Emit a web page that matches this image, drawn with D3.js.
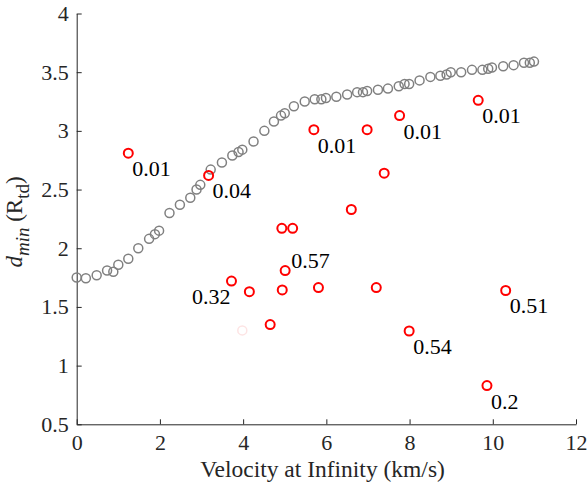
<!DOCTYPE html>
<html>
<head>
<meta charset="utf-8">
<title>dmin vs velocity at infinity</title>
<style>
	body { margin: 0; background: #fff; }
	svg { display: block; }
	.axis text { font-family: 'Liberation Serif', serif; font-size: 22px; fill: #262626; }
	.axis path, .axis line { stroke: #262626; stroke-width: 1; }
</style>
</head>
<body>
<svg width="588" height="487"></svg>
<script src="https://cdn.jsdelivr.net/npm/d3@7"></script>
<script>
	// gray curve: velocity (km/s) and d_min (R_td)
	let curveV = [0, 0.22, 0.48, 0.73, 0.88, 1.0, 1.24, 1.48, 1.74, 1.88, 1.98, 2.23, 2.48, 2.73, 2.88, 2.97,
		3.22, 3.49, 3.74, 3.89, 3.98, 4.25, 4.51, 4.74, 4.91, 5.0, 5.22, 5.48, 5.72, 5.88, 5.99, 6.24, 6.5,
		6.74, 6.88, 6.98, 7.24, 7.48, 7.74, 7.88, 7.99, 8.24, 8.5, 8.74, 8.89, 8.99, 9.24, 9.5, 9.75, 9.89,
		9.98, 10.25, 10.5, 10.75, 10.89, 10.99]
	let curveD = [1.75, 1.745, 1.77, 1.81, 1.80, 1.86, 1.91, 2.0, 2.08, 2.12, 2.15, 2.30, 2.37, 2.43, 2.50, 2.54,
		2.67, 2.73, 2.79, 2.82, 2.84, 2.91, 3.0, 3.08, 3.13, 3.15, 3.21, 3.25, 3.27, 3.27, 3.28, 3.29, 3.31,
		3.33, 3.33, 3.34, 3.35, 3.36, 3.38, 3.40, 3.40, 3.43, 3.46, 3.47, 3.48, 3.50, 3.50, 3.52, 3.52, 3.53,
		3.54, 3.55, 3.56, 3.58, 3.58, 3.59]

	// red points, with label text ('' = no label) and where the label sits
	let redV = [1.24, 3.17, 4.93, 5.19, 5.70, 6.98, 7.76, 9.65, 7.39, 6.60, 3.72, 4.15, 5.01, 4.94, 5.81, 7.20, 4.65, 10.31, 7.99, 9.86]
	let redD = [2.81, 2.62, 2.17, 2.17, 3.01, 3.01, 3.13, 3.26, 2.64, 2.33, 1.72, 1.63, 1.81, 1.645, 1.665, 1.665, 1.35, 1.64, 1.295, 0.83]
	let redLabel = ['0.01', '0.04', '', '', '0.01', '', '0.01', '0.01', '', '', '0.32', '', '0.57', '', '', '', '', '0.51', '0.54', '0.2']
	let labelSide = ['se', 'se', '', '', 'se', '', 'se', 'se', '', '', 'sw', '', 'ne', '', '', '', '', 'se', 'se', 'se']

	// one very faint point
	let fadedV = [3.98]
	let fadedD = [1.30]

	let xTicks = [0, 2, 4, 6, 8, 10, 12]
	let yTicks = [0.5, 1, 1.5, 2, 2.5, 3, 3.5, 4]

	let svg = d3.select('svg')

	let x = d3.scaleLinear().domain([0, 12]).range([76.7, 576])
	let y = d3.scaleLinear().domain([0.5, 4]).range([424.3, 13.5])

	svg.append('g')
		.attr('class', 'axis')
		.attr('transform', `translate(0,${y(0.5)})`)
		.call(d3.axisBottom(x).tickValues(xTicks).tickSizeInner(-5).tickSizeOuter(0).tickPadding(10).tickFormat(d3.format('~g')))

	svg.append('g')
		.attr('class', 'axis')
		.attr('transform', `translate(${x(0)},0)`)
		.call(d3.axisLeft(y).tickValues(yTicks).tickSizeInner(-5).tickSizeOuter(0).tickPadding(8).tickFormat(d3.format('~g')))

	let curve = d3.zip(curveV, curveD)
	svg.append('g')
		.selectAll('circle')
		.data(curve)
		.join('circle')
		.attr('cx', d => x(d[0]))
		.attr('cy', d => y(d[1]))
		.attr('r', 4.5)
		.style('fill', 'none')
		.style('stroke', '#808080')
		.style('stroke-width', 1.5)

	svg.append('g')
		.selectAll('circle')
		.data(d3.zip(fadedV, fadedD))
		.join('circle')
		.attr('cx', d => x(d[0]))
		.attr('cy', d => y(d[1]))
		.attr('r', 4.5)
		.style('fill', 'none')
		.style('stroke', '#fde4e4')
		.style('stroke-width', 1.5)

	let reds = redV.map((v, i) => ({v: v, d: redD[i], label: redLabel[i], side: labelSide[i]}))

	svg.append('g')
		.selectAll('circle')
		.data(reds)
		.join('circle')
		.attr('cx', d => x(d.v))
		.attr('cy', d => y(d.d))
		.attr('r', 4.5)
		.style('fill', 'none')
		.style('stroke', '#ff0000')
		.style('stroke-width', 2)

	let offsets = {
		se: {dx: 4, dy: 23, anchor: 'start'},
		sw: {dx: -1, dy: 23, anchor: 'end'},
		ne: {dx: 6, dy: -3, anchor: 'start'}
	}

	svg.append('g')
		.selectAll('text')
		.data(reds.filter(d => d.label != ''))
		.join('text')
		.attr('x', d => x(d.v) + offsets[d.side].dx)
		.attr('y', d => y(d.d) + offsets[d.side].dy)
		.attr('text-anchor', d => offsets[d.side].anchor)
		.style('font-family', 'Liberation Serif, serif')
		.style('font-size', '22px')
		.style('fill', '#000')
		.text(d => d.label)

	// axis titles
	svg.append('text')
		.attr('x', 322.5)
		.attr('y', 477)
		.attr('text-anchor', 'middle')
		.style('font-family', 'Liberation Serif, serif')
		.style('font-size', '23.5px')
		.style('fill', '#262626')
		.text('Velocity at Infinity (km/s)')

	let yTitle = svg.append('text')
		.attr('transform', `translate(22,222) rotate(-90)`)
		.attr('text-anchor', 'middle')
		.style('font-family', 'Liberation Serif, serif')
		.style('font-size', '23px')
		.style('fill', '#262626')
	yTitle.append('tspan').style('font-style', 'italic').text('d')
	yTitle.append('tspan').style('font-style', 'italic').style('font-size', '19px').attr('dy', 7).text('min')
	yTitle.append('tspan').attr('dy', -7).text(' (R')
	yTitle.append('tspan').style('font-size', '19px').attr('dy', 7).text('td')
	yTitle.append('tspan').attr('dy', -7).text(')')
</script>
</body>
</html>
